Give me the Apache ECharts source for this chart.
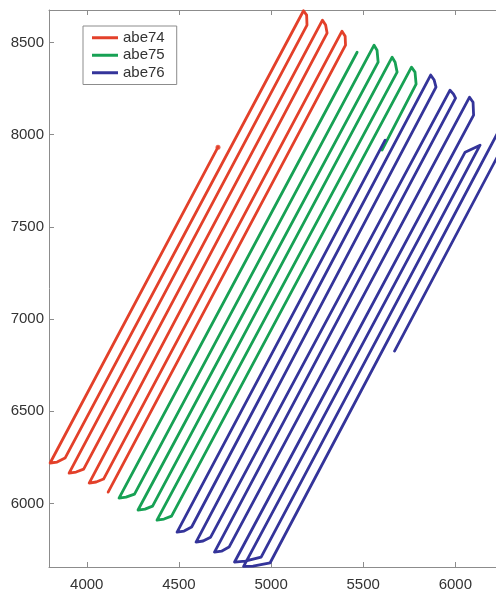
<!DOCTYPE html>
<html>
<head>
<meta charset="utf-8">
<script src="https://cdn.jsdelivr.net/npm/echarts@6/dist/echarts.min.js"></script>
<style>
  html, body { margin: 0; padding: 0; background: #fff; }
  #chart { width: 496px; height: 592px; }
</style>
</head>
<body>
<div id="chart"></div>
<script>
/* ── Axis ticks ── */
const X_TICKS = [4000, 4500, 5000, 5500, 6000, 6500];
const Y_TICKS = [6000, 6500, 7000, 7500, 8000, 8500];

/* ── Survey tracks, [easting, northing] in path order ── */
const abe74 = [
    [4712, 7932], [3801, 6219], [3839, 6224], [3882, 6246],
    [5176, 8672], [5193, 8648], [5195, 8594],
    [3904, 6164], [3942, 6170], [3983, 6186],
    [5279, 8621], [5296, 8594], [5304, 8551],
    [4013, 6110], [4051, 6116], [4091, 6132],
    [5385, 8561], [5402, 8534], [5404, 8485],
    [4116, 6061]
];
const abe75 = [
    [5467, 8447], [4175, 6029], [4213, 6034], [4259, 6050],
    [5559, 8485], [5575, 8458], [5581, 8393],
    [4278, 5964], [4316, 5969], [4357, 5985],
    [5657, 8420], [5673, 8393], [5684, 8339],
    [4381, 5909], [4419, 5915], [4460, 5931],
    [5762, 8366], [5781, 8339], [5787, 8274],
    [5602, 7916]
];
const abe76 = [
    [5619, 7970], [4490, 5844], [4528, 5850], [4569, 5872],
    [5866, 8323], [5885, 8296], [5895, 8258],
    [4593, 5790], [4631, 5796], [4672, 5817],
    [5971, 8241], [5990, 8220], [6001, 8198],
    [4693, 5736], [4731, 5741], [4772, 5763],
    [6077, 8203], [6096, 8176], [6099, 8106],
    [4802, 5682], [4859, 5687], [4946, 5709],
    [6134, 7943], [6053, 7905],
    [4851, 5658], [4902, 5660], [4995, 5678],
    [6329, 8198], [6351, 8171], [6362, 8133],
    [5670, 6826]
];
// small blob where the abe74 track starts
const abe74Start = [[4712, 7932]];

const FONT = '"Liberation Sans", Arial, sans-serif';
const AXIS_GREY = '#8c8c8c';
const COLORS = { abe74: '#e3402a', abe75: '#17a154', abe76: '#34349a' };

const chart = echarts.init(document.getElementById('chart'), null, { renderer: 'canvas' });

const frameAxis = (position, ticks, showLabel, margin) => ({
    type: 'value',
    position,
    axisLine: { show: true, onZero: false, lineStyle: { color: AXIS_GREY, width: 1 } },
    axisTick: { show: true, inside: true, length: 5, customValues: ticks, lineStyle: { color: AXIS_GREY } },
    axisLabel: {
        show: showLabel,
        customValues: ticks,
        margin,
        formatter: (v) => String(v),
        fontSize: 15,
        fontFamily: FONT,
        color: '#333',
    },
    splitLine: { show: false },
});

const trackSeries = (name, data) => ({
    name,
    type: 'line',
    data,
    showSymbol: false,
    symbol: 'none',
    smooth: false,
    animation: false,
    lineStyle: { color: COLORS[name], width: 2.8, join: 'round', cap: 'round' },
    itemStyle: { color: COLORS[name] },
});

chart.setOption({
    animation: false,
    // plot area runs past the right edge of the picture, as in the cropped original
    grid: { left: 49, top: 10, width: 498.5, height: 557, containLabel: false, outerBoundsMode: 'none' },
    xAxis: [
        { ...frameAxis('bottom', X_TICKS, true, 10), min: 3795, max: 6500 },
        { ...frameAxis('top', X_TICKS, false, 10), min: 3795, max: 6500 },
    ],
    yAxis: [
        { ...frameAxis('left', Y_TICKS, true, 5), min: 5655, max: 8676 },
    ],
    legend: {
        orient: 'vertical',
        left: 83,
        top: 26,
        padding: [4, 12, 4, 9],
        itemWidth: 26,
        itemHeight: 3,
        itemGap: 2,
        itemTextGap: 10,
        icon: 'rect',
        borderColor: AXIS_GREY,
        borderWidth: 1,
        borderRadius: 0,
        backgroundColor: '#fff',
        textStyle: { fontSize: 15, color: '#333', fontFamily: FONT, lineHeight: 15.5 },
        data: ['abe74', 'abe75', 'abe76'],
    },
    series: [
        trackSeries('abe74', abe74),
        trackSeries('abe75', abe75),
        trackSeries('abe76', abe76),
        {
            name: 'abe74 start',
            type: 'scatter',
            data: abe74Start,
            symbol: 'circle',
            symbolSize: 5,
            itemStyle: { color: COLORS.abe74 },
            silent: true,
        },
    ],
});
</script>
</body>
</html>
